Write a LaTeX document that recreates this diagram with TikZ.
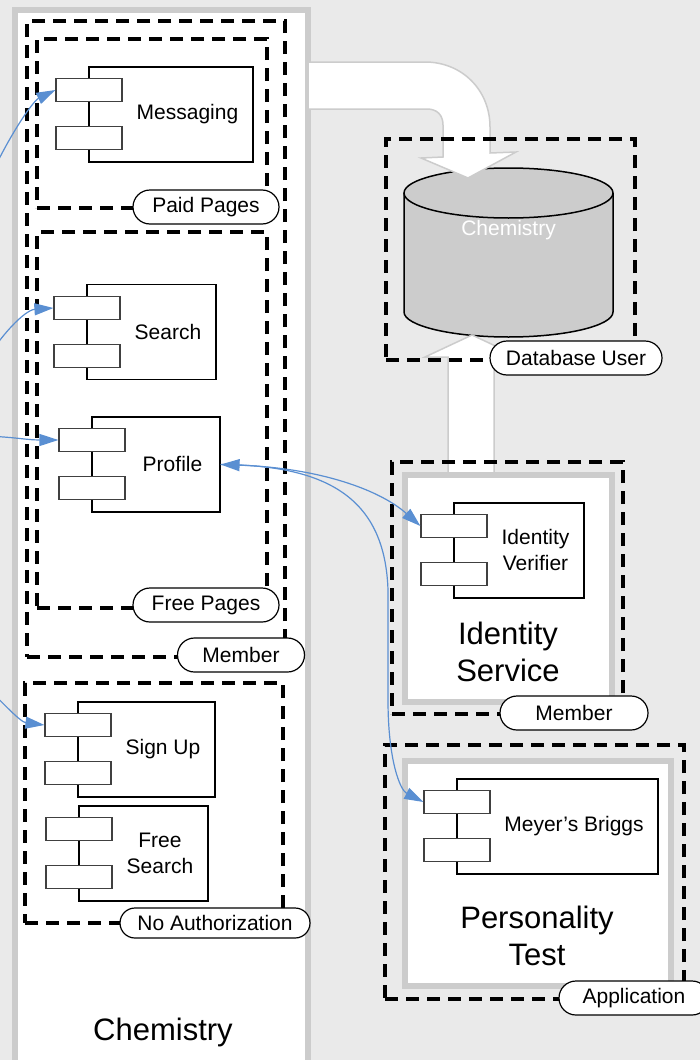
\documentclass[tikz,border=0pt]{standalone}
\usepackage{fontspec}
\setmainfont{Liberation Sans}
\usetikzlibrary{shapes, arrows.meta, positioning, calc}
\definecolor{canvas}{HTML}{EAEAEA}
\definecolor{rim}{HTML}{CCCCCC}
\definecolor{wire}{HTML}{5A8FD2}
\tikzstyle{shell} = [rectangle, draw=rim, line width=6pt, fill=white]
\tikzstyle{zone} = [rectangle, draw, line width=3.5pt, dash pattern=on 13pt off 8pt]
\tikzstyle{tag} = [rounded rectangle, draw, fill=white, line width=1.2pt, minimum height=34pt, inner sep=0pt, font=\fontsize{21}{25}\selectfont]
\tikzstyle{part} = [rectangle, draw, line width=1.2pt, fill=white, minimum height=95pt]
\tikzstyle{port} = [rectangle, draw=black!75, line width=1.2pt, fill=white, minimum width=66pt, minimum height=23pt]
\tikzstyle{partname} = [align=center, font=\fontsize{21}{26}\selectfont]
\tikzstyle{heading} = [align=center, font=\fontsize{31}{37}\selectfont]
\tikzstyle{link} = [draw=wire, line width=1.2pt, -{Triangle[length=19pt, width=12pt]}]
\tikzstyle{fatarrow} = [draw=rim, line width=1.5pt, fill=white]
\tikzstyle{store} = [draw, line width=1.5pt, fill=rim]

\begin{document}
\begin{tikzpicture}[x=1pt, y=-1pt]
  \useasboundingbox (0,0) rectangle (700,1060);
  \fill[canvas] (0,0) rectangle (700,1060);

  % web application
  \node[shell, minimum width=293pt, minimum height=1065pt] (chem) at (161.5,542.5) {};
  \node[heading] (chemname) at (163,1032) {Chemistry};

  % database
  \draw[store] (404,193) -- (404,312) .. controls (404,325.8) and (451.8,337) .. (508.5,337)
    .. controls (565.2,337) and (613,325.8) .. (613,312) -- (613,193);
  \node[store, ellipse, minimum width=209pt, minimum height=50pt] (db) at (508.5,193) {};
  \node[partname, text=white] (dbname) at (508.5,230) {Chemistry};

  % data access arrows
  \draw[fatarrow] (308,62) -- (425,62) .. controls (462,62) and (490,90) .. (490,127)
    -- (490,153) -- (516,152) -- (468,178) -- (421,158) -- (443,157) -- (443,125)
    .. controls (443,115) and (437,109) .. (427,109) -- (308,109) -- cycle;
  \draw[fatarrow] (448,485) -- (448,357) -- (425,357) -- (472,335) -- (519,357)
    -- (494,357) -- (494,485) -- cycle;

  % security zones
  \node[zone, minimum width=258pt, minimum height=636pt] (member) at (156,339) {};
  \node[zone, minimum width=230pt, minimum height=169pt] (paid) at (152,123.5) {};
  \node[zone, minimum width=230pt, minimum height=376pt] (free) at (152,420) {};
  \node[zone, minimum width=258pt, minimum height=240pt] (noauth) at (154,803) {};
  \node[zone, minimum width=249pt, minimum height=221pt] (dbuser) at (510.5,249.5) {};
  \node[zone, minimum width=231pt, minimum height=252pt] (idmember) at (507.5,588) {};
  \node[zone, minimum width=299pt, minimum height=254pt] (app) at (534.5,872) {};

  % external services
  \node[shell, minimum width=207pt, minimum height=227pt] (idsvc) at (508.5,588.5) {};
  \node[shell, minimum width=266pt, minimum height=225pt] (perstest) at (538,873.5) {};
  \node[heading] (idname) at (508,652) {Identity\\Service};
  \node[heading] (persname) at (537,936) {Personality\\Test};

  % components
  \node[part, minimum width=164pt] (msg) at (171,114.5) {};
  \node[port] (msgA) at (89,90) {};
  \node[port] (msgB) at (89,138) {};
  \node[partname] (msgname) at (187.5,114) {Messaging};

  \node[part, minimum width=129pt] (search) at (151.5,332) {};
  \node[port] (searchA) at (87,308) {};
  \node[port] (searchB) at (87,356) {};
  \node[partname] (searchname) at (168,332) {Search};

  \node[part, minimum width=128pt] (prof) at (156,464.5) {};
  \node[port] (profA) at (92,440) {};
  \node[port] (profB) at (92,488) {};
  \node[partname] (profname) at (172.5,464) {Profile};

  \node[part, minimum width=137pt] (sign) at (146.5,749.5) {};
  \node[port] (signA) at (78,725) {};
  \node[port] (signB) at (78,773) {};
  \node[partname] (signname) at (163,749) {Sign Up};

  \node[part, minimum width=129pt] (fsearch) at (143.5,853.5) {};
  \node[port] (fsearchA) at (79,829) {};
  \node[port] (fsearchB) at (79,877) {};
  \node[partname] (fsearchname) at (160,853) {Free\\Search};

  \node[part, minimum width=130pt] (ver) at (519,550.5) {};
  \node[port] (verA) at (454,526) {};
  \node[port] (verB) at (454,574) {};
  \node[partname] (vername) at (535.5,550) {Identity\\Verifier};

  \node[part, minimum width=201pt] (mb) at (557.5,826.5) {};
  \node[port] (mbA) at (457,802) {};
  \node[port] (mbB) at (457,850) {};
  \node[partname] (mbname) at (574,826) {Meyer’s Briggs};

  % requests
  \coordinate (inMsg) at (-20,200);
  \coordinate (inSearch) at (-20,370);
  \coordinate (inProf) at (-25,436);
  \coordinate (inSign) at (-25,675);
  \draw[link] (inMsg) .. controls (5,140) and (33,101) .. (msgA.west);
  \draw[link] (inSearch) .. controls (0,335) and (25,310) .. (searchA.west);
  \draw[link] (inProf) .. controls (10,436) and (25,440) .. (profA.west);
  \draw[link] (inSign) .. controls (0,700) and (20,722) .. (signA.west);
  \draw[link, {Triangle[length=19pt, width=12pt]}-{Triangle[length=19pt, width=12pt]}]
    (prof.east) .. controls (320,468) and (380,490) .. (verA.west);
  \draw[link] (prof.east) .. controls (330,465) and (385,500) .. (388,590)
    -- (388,700) .. controls (388,760) and (400,790) .. (mbA.west);

  % zone tags
  \node[tag, minimum width=146pt] (paidtag) at (206,207) {Paid Pages};
  \node[tag, minimum width=146pt] (freetag) at (206,605) {Free Pages};
  \node[tag, minimum width=127pt] (membertag) at (241,655) {Member};
  \node[tag, minimum width=190pt, minimum height=30pt] (noauthtag) at (215,923) {No Authorization};
  \node[tag, minimum width=172pt] (dbusertag) at (576,358) {Database User};
  \node[tag, minimum width=148pt] (idmembertag) at (574,713) {Member};
  \node[tag, minimum width=150pt] (apptag) at (634,998) {Application};
\end{tikzpicture}
\end{document}
